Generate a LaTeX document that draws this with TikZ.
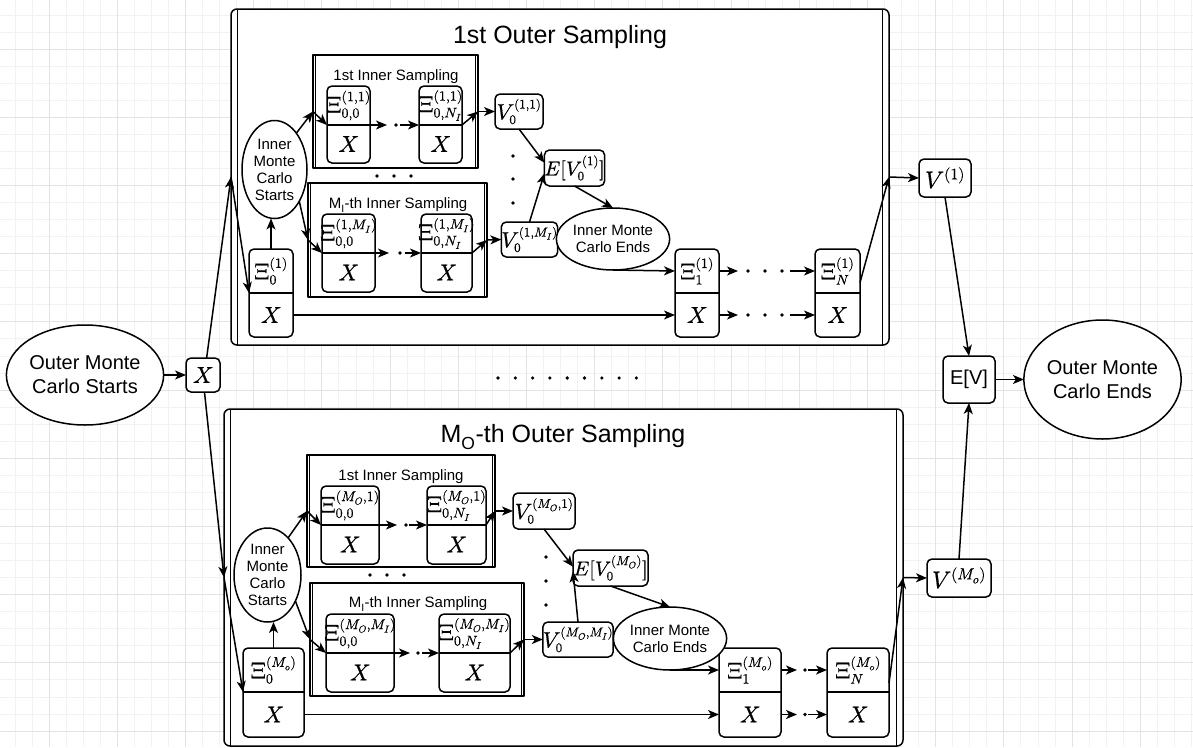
\documentclass[tikz,border=0pt]{standalone}
\usepackage{fontspec}
\usepackage{unicode-math}
\setmainfont{Liberation Sans}
\setmathfont{Latin Modern Math}[FakeBold=0.6]
\DeclareMathSizes{23}{23}{14}{10}
\DeclareMathSizes{22}{22}{13}{9.5}
\DeclareMathSizes{20}{20}{13}{9.5}
\DeclareMathSizes{24}{24}{16}{12}
\usetikzlibrary{arrows.meta,shapes.geometric}

\tikzset{
  arr/.style={-{Stealth[length=11pt,width=9pt,inset=3pt]}},
  gmin/.style={draw=black!5, line width=0.8pt},
  gmaj/.style={draw=black!11, line width=1pt},
  procshape/.style={draw, fill=white, inner sep=0pt, outer sep=0pt},
  box/.style={draw, fill=white, rounded corners=5pt, inner sep=0pt, outer sep=0pt},
  ell/.style={ellipse, draw, fill=white, inner sep=0pt, outer sep=0pt, align=center},
  xilab/.style={inner sep=0pt, font=\fontsize{23}{27}\selectfont},
  xlab/.style={inner sep=0pt, font=\fontsize{23}{27}\selectfont},
  vsmall/.style={font=\fontsize{22}{26}\selectfont},
  emid/.style={font=\fontsize{20}{24}\selectfont},
  vbig/.style={font=\fontsize{24}{28}\selectfont},
  smalltxt/.style={font=\fontsize{15}{17}\selectfont},
  bigtxt/.style={font=\fontsize{20}{24}\selectfont},
  titletxt/.style={font=\fontsize{25}{30}\selectfont, inner sep=0pt},
  subtitletxt/.style={font=\fontsize{15}{18}\selectfont, inner sep=0pt},
}

% container with double vertical side bars: name, x1, y1, x2, y2, bar inset, corner radius
\newcommand\procbox[7]{%
  \node[procshape, rounded corners=#7pt, minimum width={(#4-#2)*1pt}, minimum height={(#5-#3)*1pt}] (#1) at ({(#2+#4)/2},{(#3+#5)/2}) {};
  \draw ({#2+#6},#3) -- ({#2+#6},#5) ({#4-#6},#3) -- ({#4-#6},#5);
}

% two-part state box: name, x1, x2, y1, divider y, y2, upper label, lower label
\newcommand\xibox[8]{%
  \node[box, minimum width={(#3-#2)*1pt}, minimum height={(#6-#4)*1pt}] (#1) at ({(#2+#3)/2},{(#4+#6)/2}) {};
  \coordinate (#1-dl) at (#2,#5);
  \coordinate (#1-dr) at (#3,#5);
  \coordinate (#1-hl) at (#2,{(#4+#5)/2});
  \coordinate (#1-hr) at (#3,{(#4+#5)/2});
  \coordinate (#1-bl) at (#2,{(#5+#6)/2});
  \coordinate (#1-br) at (#3,{(#5+#6)/2});
  \draw (#1-dl) -- (#1-dr);
  \node[xilab] (#1-top) at ({(#2+#3)/2},{(#4+#5)/2}) {#7};
  \node[xlab] (#1-bot) at ({(#2+#3)/2},{(#5+#6)/2}) {#8};
}

\newcommand\dotat[2]{\fill (#1,#2) circle (1.8pt);}

\begin{document}
\begin{tikzpicture}[x=1pt, y=-1pt, line width=1.5pt, line join=round]
\useasboundingbox (0,0) rectangle (1193,747);

% background grid
\begin{scope}
\clip (0,0) rectangle (1193,747);
\foreach \i in {0,...,70} \draw[gmin] ({14.9+17.05*\i},0) -- ({14.9+17.05*\i},747);
\foreach \i in {0,...,44} \draw[gmin] (0,{14.9+17.05*\i}) -- (1193,{14.9+17.05*\i});
\foreach \i in {0,...,17} \draw[gmaj] ({49+68.2*\i},0) -- ({49+68.2*\i},747);
\foreach \i in {0,...,10} \draw[gmaj] (0,{49+68.2*\i}) -- (1193,{49+68.2*\i});
\end{scope}

% ---------- outer sampling blocks ----------
\procbox{o1}{231}{9}{889}{345}{6.5}{6}
\procbox{o2}{224}{409}{903}{746}{6.5}{6}
\node[titletxt] (t1) at (560,37) {1st Outer Sampling};
\node[titletxt] (t2) at (563,437) {M\textsubscript{O}-th Outer Sampling};

% ---------- inner sampling containers ----------
\procbox{ia1}{313}{55}{478}{168}{2.7}{0}
\procbox{ib1}{308}{183}{487}{297}{2.7}{0}
\procbox{ia2}{307}{455}{495}{567}{2.7}{0}
\procbox{ib2}{310}{583}{524}{696}{2.7}{0}
\node[subtitletxt] (ta1) at (396,77) {1st Inner Sampling};
\node[subtitletxt] (tb1) at (398,205) {M\textsubscript{I}-th Inner Sampling};
\node[subtitletxt] (ta2) at (401,477) {1st Inner Sampling};
\node[subtitletxt] (tb2) at (418,604) {M\textsubscript{I}-th Inner Sampling};

% ---------- state boxes, first outer sample ----------
\xibox{a1}{327}{370}{86}{125}{163}{$\Xi^{(1,1)}_{0,0}$}{$X$}
\xibox{b1}{419}{462}{86}{125}{163}{$\Xi^{(1,1)}_{0,N_I}$}{$X$}
\xibox{c1}{322}{375}{214}{253}{292}{$\Xi^{(1,M_I)}_{0,0}$}{$X$}
\xibox{d1}{421}{472}{214}{253}{292}{$\Xi^{(1,M_I)}_{0,N_I}$}{$X$}
\xibox{z1}{249}{293}{249}{293}{337}{$\Xi^{(1)}_{0}$}{$X$}
\xibox{p1}{675}{719}{249}{293}{337}{$\Xi^{(1)}_{1}$}{$X$}
\xibox{q1}{815}{860}{249}{293}{337}{$\Xi^{(1)}_{N}$}{$X$}

% ---------- state boxes, last outer sample ----------
\xibox{a2}{321}{379}{486}{525}{564}{$\Xi^{(M_O,1)}_{0,0}$}{$X$}
\xibox{b2}{427}{486}{486}{525}{564}{$\Xi^{(M_O,1)}_{0,N_I}$}{$X$}
\xibox{c2}{326}{394}{614}{653}{692}{$\Xi^{(M_O,M_I)}_{0,0}$}{$X$}
\xibox{d2}{439}{510}{614}{653}{692}{$\Xi^{(M_O,M_I)}_{0,N_I}$}{$X$}
\xibox{z2}{243}{304}{648}{692}{737}{$\Xi^{(M_o)}_{0}$}{$X$}
\xibox{p2}{719}{781}{648}{692}{737}{$\Xi^{(M_o)}_{1}$}{$X$}
\xibox{q2}{827}{889}{648}{692}{737}{$\Xi^{(M_o)}_{N}$}{$X$}

% ---------- value nodes ----------
\node[box, vsmall, minimum width=48pt, minimum height=35pt] (v11) at (519,111.5) {$V^{(1,1)}_0$};
\node[box, vsmall, minimum width=53pt, minimum height=35pt] (vm1) at (529.5,239.5) {$V^{(1,M_I)}_0$};
\node[box, emid, minimum width=55pt, minimum height=36pt] (e1) at (574.5,168) {$E[V^{(1)}_0]$};
\node[box, vsmall, minimum width=62pt, minimum height=36pt] (v12) at (544,511) {$V^{(M_O,1)}_0$};
\node[box, vsmall, minimum width=70pt, minimum height=35pt] (vm2) at (578,639.5) {$V^{(M_O,M_I)}_0$};
\node[box, emid, minimum width=75pt, minimum height=36pt] (e2) at (610.5,568) {$E[V^{(M_O)}_0]$};

% ---------- inner Monte Carlo start / end ----------
\node[ell, smalltxt, minimum width=65pt, minimum height=98pt] (s1) at (274.5,169.5) {Inner\\Monte\\Carlo\\Starts};
\node[ell, smalltxt, minimum width=100pt, minimum height=62pt] (en1) at (613,239) {Inner Monte\\Carlo Ends};
\node[ell, smalltxt, minimum width=67pt, minimum height=94pt] (s2) at (267.5,575) {Inner\\Monte\\Carlo\\Starts};
\node[ell, smalltxt, minimum width=100pt, minimum height=63pt] (en2) at (670,638.5) {Inner Monte\\Carlo Ends};

% ---------- outer level ----------
\node[ell, bigtxt, minimum width=156pt, minimum height=100pt] (ostart) at (85,375) {Outer Monte\\Carlo Starts};
\node[box, xlab, minimum width=34pt, minimum height=34pt] (x0) at (203,375) {$X$};
\node[box, vbig, minimum width=52pt, minimum height=38pt] (v1) at (945,178) {$V^{(1)}$};
\node[box, vbig, minimum width=64pt, minimum height=38pt] (vmo) at (959,578) {$V^{(M_o)}$};
\node[box, bigtxt, minimum width=52pt, minimum height=47pt] (ev) at (969,379.5) {E[V]};
\node[ell, bigtxt, minimum width=153pt, minimum height=119pt] (oend) at (1102.5,379.5) {Outer Monte\\Carlo Ends};

% free ends of the dotted chains
\coordinate (ca1) at (387,125);  \coordinate (cb1) at (400,125);
\coordinate (cc1) at (389,253);  \coordinate (cd1) at (405,253);
\coordinate (ph1) at (738,271);  \coordinate (qh1) at (790,271);
\coordinate (pb1) at (738,315);  \coordinate (qb1) at (790,315);
\coordinate (ca2) at (397,525);  \coordinate (cb2) at (409,525);
\coordinate (cc2) at (410,653);  \coordinate (cd2) at (422,653);
\coordinate (ph2) at (797,670);  \coordinate (qh2) at (808,670);
\coordinate (pb2) at (797,714.5);\coordinate (qb2) at (808,714.5);

% ---------- connectors: outer level ----------
\draw[arr] (ostart.east) -- (x0.west);
\draw[arr] (x0.78) -- (o1.west);
\draw[arr] (x0.-85) -- (o2.west);
\draw[arr] (o1.west) -- (z1-dl);
\draw[arr] (o2.west) -- (z2-dl);
\draw[arr] (q1.25) -- (o1.east);
\draw[arr] (o1.east) -- (v1.west);
\draw[arr] (q2.17) -- (o2.east);
\draw[arr] (o2.east) -- (vmo.west);
\draw[arr] (v1.south) -- (ev.north);
\draw[arr] (vmo.north) -- (ev.south);
\draw[arr] (ev.east) -- (oend.west);

% ---------- connectors: first outer sample ----------
\draw[arr] (z1.north) -- (z1.north |- s1.south);
\draw[arr] (s1.59) -- (ia1.west);
\draw[arr] (ia1.west) -- (a1-dl);
\draw[arr] (a1-dr) -- (ca1);
\draw[arr] (cb1) -- (b1-dl);
\draw[arr] (b1-dr) -- (ia1.east);
\draw[arr] (ia1.east) -- (v11.west);
\draw[arr] (s1.-52) -- (ib1.west);
\draw[arr] (ib1.west) -- (c1-dl);
\draw[arr] (c1-dr) -- (cc1);
\draw[arr] (cd1) -- (d1-dl);
\draw[arr] (d1-dr) -- (ib1.east);
\draw[arr] (ib1.east) -- (vm1.west);
\draw[arr] (v11.south) -- (e1.170);
\draw[arr] (vm1.north) -- (e1.190);
\draw[arr] (e1.south) -- (en1.north);
\draw[arr] (en1.south) -- (p1-hl);
\draw[arr] (z1-br) -- (p1-bl);
\draw[arr] (p1-hr) -- (ph1);
\draw[arr] (qh1) -- (q1-hl);
\draw[arr] (p1-br) -- (pb1);
\draw[arr] (qb1) -- (q1-bl);

% ---------- connectors: last outer sample ----------
\draw[arr] (z2.north) -- (z2.north |- s2.south);
\draw[arr] (s2.61) -- (ia2.west);
\draw[arr] (ia2.west) -- (a2-dl);
\draw[arr] (a2-dr) -- (ca2);
\draw[arr] (cb2) -- (b2-dl);
\draw[arr] (b2-dr) -- (ia2.east);
\draw[arr] (ia2.east) -- (v12.west);
\draw[arr] (s2.-43) -- (ib2.west);
\draw[arr] (ib2.west) -- (c2-dl);
\draw[arr] (c2-dr) -- (cc2);
\draw[arr] (cd2) -- (d2-dl);
\draw[arr] (d2-dr) -- (ib2.east);
\draw[arr] (ib2.east) -- (vm2.west);
\draw[arr] (v12.south) -- (e2.178);
\draw[arr] (vm2.north) -- (e2.185);
\draw[arr] (e2.south) -- (en2.north);
\draw[arr] (en2.south) -- (p2-hl);
\draw[arr] (z2-br) -- (p2-bl);
\draw[arr] (p2-hr) -- (ph2);
\draw[arr] (qh2) -- (q2-hl);
\draw[arr] (p2-br) -- (pb2);
\draw[arr] (qb2) -- (q2-bl);

% ---------- ellipsis dots ----------
\dotat{396}{125} \dotat{400}{253}
\dotat{406}{525} \dotat{418}{653}
\dotat{377}{176} \dotat{394}{176} \dotat{411}{176}
\dotat{370}{575} \dotat{387}{575} \dotat{404}{575}
\dotat{513}{156} \dotat{513}{179} \dotat{513}{203}
\dotat{546}{557} \dotat{546}{581} \dotat{546}{605}
\foreach \k in {748,765,782} {\dotat{\k}{271} \dotat{\k}{315}}
\dotat{805}{670} \dotat{805}{714.5}
\foreach \k in {0,...,8} {\dotat{498+17.3*\k}{378}}
\end{tikzpicture}
\end{document}
